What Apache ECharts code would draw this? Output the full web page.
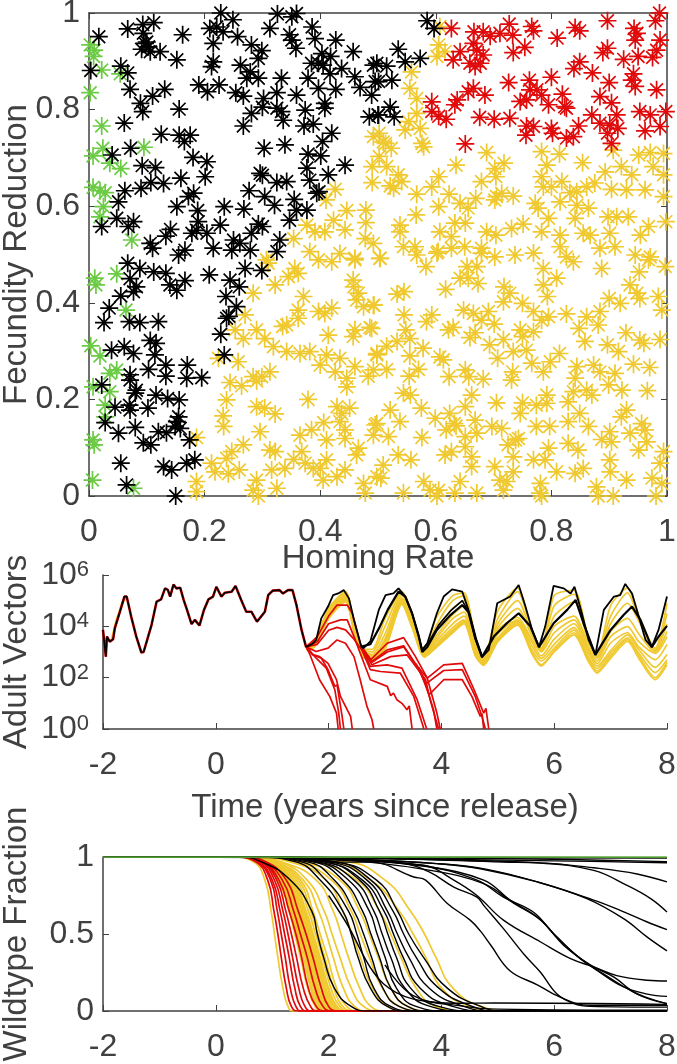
<!DOCTYPE html>
<html><head><meta charset="utf-8"><style>html,body{margin:0;padding:0;background:#fff}#c{width:677px;height:1064px}</style>
<script src="https://cdn.jsdelivr.net/npm/echarts@6/dist/echarts.min.js"></script></head><body><div id="c"></div>
<script>
const blackPts=[[.017,.951],[.067,.967],[.093,.976],[.112,.98],[.094,.958],[.097,.937],[.1,.94],[.103,.93],[.091,.925],[.106,.92],[.123,.92],[.152,.903],[.162,.955],[.228,1],[.249,.986],[.209,.968],[.221,.971],[.232,.961],[.257,.951],[.215,.937],[.215,.899],[.212,.889],[.281,.934],[.299,.922],[.293,.906],[.262,.892],[.279,.878],[.273,.865],[.293,.865],[.333,.865],[.313,.968],[.326,.998],[.351,.992],[.359,.999],[.347,.955],[.351,.944],[.358,.927],[.386,.971],[.391,.947],[.427,.944],[.457,.92],[.403,.916],[.418,.91],[.385,.896],[.397,.896],[.405,.892],[.437,.885],[.417,.874],[.379,.865],[.397,.844],[.427,.842],[.46,.868],[.469,.846],[.492,.892],[.495,.858],[.489,.83],[.485,.785],[.5,.789],[.003,.881],[.055,.89],[.067,.876],[.071,.842],[.131,.842],[.11,.828],[.089,.813],[.093,.796],[.156,.801],[.19,.851],[.205,.837],[.225,.851],[.254,.835],[.267,.828],[.302,.823],[.325,.835],[.359,.83],[.3,.805],[.281,.792],[.325,.803],[.333,.796],[.336,.778],[.374,.799],[.408,.813],[.408,.803],[.372,.766],[.388,.77],[.267,.766],[.061,.772],[.125,.749],[.156,.747],[.175,.747],[.165,.734],[.072,.72],[.04,.706],[.18,.701],[.204,.692],[.303,.72],[.339,.727],[.42,.751],[.404,.734],[.379,.708],[.401,.704],[.443,.685],[.414,.665],[.377,.679],[.382,.654],[.394,.627],[.398,.63],[.092,.684],[.115,.68],[.107,.649],[.129,.647],[.159,.658],[.201,.661],[.296,.668],[.3,.664],[.325,.649],[.342,.651],[.277,.632],[.304,.62],[.321,.602],[.355,.614],[.062,.632],[.09,.637],[.051,.609],[.181,.627],[.172,.62],[.152,.599],[.188,.591],[.234,.599],[.268,.594],[.359,.592],[.377,.592],[.347,.571],[.048,.575],[.022,.558],[.077,.568],[.068,.558],[.141,.552],[.133,.538],[.189,.568],[.227,.561],[.178,.544],[.204,.544],[.186,.55],[.293,.563],[.3,.558],[.281,.544],[.33,.53],[.325,.506],[.25,.53],[.215,.513],[.247,.509],[.279,.509],[.261,.523],[.106,.523],[.11,.513],[.155,.499],[.166,.509],[.585,.984],[.597,.968],[.535,.925],[.498,.896],[.515,.89],[.547,.899],[.573,.906],[.501,.858],[.524,.861],[.521,.805],[.501,.789],[.528,.785],[.067,.482],[.088,.471],[.112,.464],[.133,.461],[.071,.45],[.082,.433],[.077,.423],[.166,.446],[.14,.437],[.152,.426],[.208,.458],[.244,.447],[.27,.471],[.299,.467],[.26,.433],[.237,.413],[.255,.392],[.238,.368],[.242,.372],[.228,.335],[.234,.292],[.055,.414],[.035,.389],[.026,.359],[.07,.361],[.088,.359],[.12,.361],[.106,.322],[.116,.316],[.039,.302],[.061,.309],[.077,.295],[.114,.292],[.103,.262],[.133,.271],[.17,.271],[.133,.248],[.169,.244],[.195,.245],[.071,.251],[.071,.24],[.022,.23],[.082,.219],[.08,.213],[.116,.209],[.136,.202],[.156,.199],[.045,.184],[.07,.188],[.071,.178],[.102,.182],[.155,.164],[.152,.154],[.028,.152],[.08,.142],[.051,.13],[.12,.133],[.134,.131],[.149,.144],[.158,.14],[.174,.116],[.094,.11],[.107,.106],[.055,.068],[.129,.061],[.143,.054],[.169,.068],[.183,.075],[.065,.023],[.15,0]];
const greenPts=[[.002,.934],[.009,.923],[.008,.91],[.022,.882],[.054,.874],[.002,.835],[.022,.766],[.024,.72],[.007,.704],[.036,.689],[.055,.678],[.095,.722],[.007,.639],[.019,.632],[.028,.628],[.025,.599],[.019,.578],[.074,.53],[.01,.451],[.012,.437],[.048,.46],[.064,.385],[.003,.311],[.019,.29],[.048,.261],[.036,.254],[.007,.226],[.036,.216],[.028,.188],[.028,.164],[.007,.116],[.009,.106],[.006,.033],[.077,.016]];
const redPts=[[.987,1],[.98,.984],[.897,.984],[.943,.968],[.948,.958],[.945,.944],[.988,.944],[.982,.923],[.975,.908],[.95,.91],[.925,.904],[.897,.927],[.889,.918],[.841,.97],[.849,.963],[.81,.948],[.766,.972],[.769,.963],[.754,.929],[.734,.918],[.727,.977],[.733,.954],[.711,.958],[.694,.952],[.682,.961],[.666,.961],[.627,.968],[.665,.937],[.642,.92],[.63,.903],[.682,.913],[.671,.923],[.659,.896],[.668,.889],[.677,.896],[.849,.899],[.839,.885],[.871,.876],[.8,.867],[.762,.861],[.726,.856],[.9,.856],[.942,.874],[.939,.861],[.945,.848],[.982,.841],[.884,.827],[.904,.814],[.819,.832],[.685,.83],[.665,.844],[.656,.837],[.637,.82],[.633,.81],[.593,.816],[.593,.796],[.605,.786],[.618,.78],[.676,.784],[.701,.78],[.728,.782],[.757,.82],[.763,.841],[.775,.841],[.783,.83],[.746,.817],[.795,.81],[.823,.806],[.826,.803],[.87,.789],[.913,.789],[.953,.796],[.971,.789],[.998,.796],[.757,.766],[.769,.765],[.756,.747],[.8,.761],[.802,.751],[.826,.741],[.838,.744],[.847,.766],[.884,.772],[.901,.768],[.915,.761],[.897,.751],[.962,.756],[.988,.765],[.904,.73],[.651,.729]];
const yellowPts=[[.607,.972],[.605,.934],[.602,.91],[.616,.92],[.558,.878],[.555,.844],[.567,.823],[.567,.792],[.553,.775],[.547,.758],[.573,.761],[.576,.73],[.579,.723],[.509,.733],[.523,.72],[.492,.744],[.515,.682],[.535,.665],[.541,.651],[.521,.642],[.527,.637],[.567,.625],[.605,.661],[.593,.64],[.635,.685],[.688,.711],[.718,.689],[.702,.678],[.704,.661],[.679,.651],[.623,.625],[.605,.599],[.642,.606],[.669,.616],[.656,.596],[.566,.582],[.538,.561],[.538,.547],[.607,.547],[.633,.565],[.651,.565],[.627,.537],[.688,.547],[.704,.54],[.731,.554],[.751,.563],[.705,.62],[.714,.627],[.702,.613],[.734,.621],[.783,.713],[.814,.708],[.792,.685],[.854,.69],[.783,.661],[.786,.64],[.818,.651],[.8,.64],[.832,.628],[.844,.63],[.772,.606],[.777,.596],[.815,.609],[.844,.602],[.864,.596],[.841,.575],[.795,.575],[.783,.547],[.815,.54],[.855,.544],[.867,.54],[.901,.544],[.898,.578],[.913,.578],[.933,.578],[.968,.558],[.954,.54],[.998,.568],[.994,.62],[.93,.634],[.904,.635],[.962,.634],[.875,.648],[.861,.64],[.893,.671],[.921,.682],[.939,.665],[.907,.716],[.951,.706],[.971,.711],[.994,.709],[.976,.682],[.994,.665],[.544,.516],[.564,.516],[.604,.506],[.627,.513],[.65,.516],[.679,.513],[.702,.495],[.737,.499],[.769,.503],[.815,.516],[.826,.495],[.884,.513],[.91,.516],[.945,.499],[.971,.495],[.504,.492],[.502,.751],[.513,.73],[.502,.703],[.49,.682],[.49,.649],[.426,.635],[.41,.613],[.446,.591],[.479,.592],[.479,.566],[.377,.561],[.391,.547],[.408,.547],[.423,.571],[.443,.551],[.354,.533],[.478,.533],[.492,.523],[.382,.506],[.434,.502],[.46,.492],[.307,.489],[.31,.482],[.356,.471],[.345,.454],[.362,.461],[.322,.437],[.284,.42],[.371,.413],[.397,.489],[.42,.485],[.46,.489],[.457,.447],[.458,.433],[.466,.42],[.463,.406],[.492,.395],[.475,.392],[.42,.389],[.397,.382],[.408,.378],[.362,.385],[.362,.368],[.27,.375],[.335,.351],[.342,.354],[.29,.344],[.253,.344],[.267,.326],[.304,.326],[.319,.309],[.342,.299],[.414,.333],[.457,.33],[.486,.349],[.46,.344],[.365,.295],[.382,.299],[.411,.292],[.434,.285],[.4,.271],[.498,.295],[.46,.268],[.426,.257],[.483,.248],[.446,.244],[.446,.226],[.224,.285],[.258,.278],[.284,.247],[.313,.257],[.299,.247],[.244,.235],[.264,.228],[.29,.238],[.238,.199],[.379,.2],[.29,.185],[.304,.182],[.322,.17],[.232,.166],[.233,.144],[.296,.133],[.365,.126],[.385,.137],[.406,.152],[.429,.185],[.437,.171],[.451,.182],[.434,.154],[.443,.137],[.411,.116],[.443,.119],[.495,.147],[.492,.126],[.186,.121],[.466,.099],[.463,.085],[.313,.095],[.322,.092],[.368,.092],[.411,.075],[.354,.076],[.267,.106],[.247,.092],[.238,.078],[.212,.068],[.218,.05],[.241,.046],[.26,.054],[.316,.054],[.339,.057],[.374,.068],[.388,.057],[.4,.057],[.443,.054],[.429,.04],[.405,.033],[.475,.026],[.498,.04],[.186,.03],[.186,.009],[.29,.033],[.284,.012],[.293,0],[.325,.016],[.478,.006],[.503,.492],[.583,.475],[.567,.499],[.602,.503],[.679,.503],[.838,.485],[.786,.471],[.887,.471],[.997,.475],[.952,.464],[.968,.489],[.654,.475],[.671,.475],[.642,.451],[.656,.451],[.673,.44],[.533,.418],[.545,.423],[.617,.428],[.718,.433],[.728,.42],[.717,.402],[.786,.437],[.809,.451],[.793,.413],[.936,.437],[.948,.42],[.953,.409],[.985,.413],[.9,.409],[.884,.382],[.919,.399],[.493,.395],[.545,.375],[.593,.375],[.584,.361],[.648,.385],[.665,.378],[.691,.382],[.679,.364],[.701,.356],[.75,.399],[.769,.382],[.783,.364],[.795,.371],[.826,.377],[.861,.371],[.881,.354],[.848,.347],[.991,.385],[.489,.347],[.548,.344],[.555,.326],[.533,.32],[.578,.306],[.622,.344],[.63,.349],[.668,.338],[.659,.328],[.746,.344],[.75,.33],[.717,.324],[.693,.313],[.769,.34],[.858,.32],[.929,.338],[.897,.313],[.916,.299],[.953,.323],[.96,.316],[.988,.324],[.498,.292],[.515,.31],[.555,.29],[.607,.288],[.613,.282],[.734,.299],[.707,.285],[.757,.302],[.766,.275],[.814,.295],[.798,.278],[.786,.257],[.844,.268],[.873,.271],[.884,.257],[.91,.254],[.942,.273],[.97,.266],[.515,.262],[.492,.261],[.57,.262],[.554,.248],[.623,.247],[.651,.261],[.657,.247],[.682,.242],[.733,.257],[.731,.24],[.841,.244],[.899,.23],[.662,.209],[.544,.213],[.556,.209],[.705,.193],[.792,.209],[.75,.193],[.774,.188],[.792,.192],[.829,.195],[.838,.216],[.861,.219],[.87,.209],[.922,.219],[.966,.218],[.93,.178],[.921,.164],[.849,.171],[.521,.178],[.538,.154],[.575,.182],[.599,.161],[.624,.171],[.651,.185],[.632,.15],[.668,.157],[.697,.144],[.714,.14],[.746,.171],[.797,.144],[.774,.144],[.829,.154],[.864,.144],[.498,.15],[.518,.123],[.576,.121],[.618,.137],[.635,.145],[.651,.123],[.671,.13],[.738,.116],[.743,.119],[.725,.106],[.795,.099],[.829,.109],[.846,.095],[.887,.117],[.901,.133],[.904,.112],[.936,.13],[.956,.15],[.962,.137],[.951,.095],[.965,.112],[.535,.085],[.557,.075],[.616,.085],[.627,.092],[.651,.102],[.662,.081],[.662,.061],[.702,.061],[.734,.081],[.769,.075],[.789,.075],[.734,.05],[.809,.05],[.841,.047],[.855,.057],[.901,.075],[.902,.05],[.994,.092],[.988,.068],[.509,.064],[.505,.037],[.579,.03],[.59,.012],[.605,.012],[.642,.03],[.711,.033],[.723,.03],[.717,.012],[.781,.026],[.878,.019],[.93,.033],[.974,.037],[.991,.026],[.544,.006],[.602,0],[.633,.006],[.671,.006],[.783,0],[.881,0],[.907,0],[.981,0],[.78,.006]];

// Adult vectors: [time, log10 count]
const vecShared=[[-2,3.86],[-1.95,2.82],[-1.93,3.6],[-1.88,3.4],[-1.82,3.5],[-1.79,3.93],[-1.7,4.57],[-1.62,5.16],[-1.58,5.16],[-1.5,4.38],[-1.41,3.6],[-1.32,2.98],[-1.28,3],[-1.2,3.6],[-1.14,4.05],[-1.05,4.96],[-.97,5.05],[-.9,5.48],[-.85,5.42],[-.81,5.16],[-.75,5.63],[-.7,5.48],[-.63,5.5],[-.57,5.03],[-.51,4.64],[-.43,4.09],[-.37,4.25],[-.29,4.03],[-.21,4.64],[-.13,5.05],[-.05,5.16],[.01,5.54],[.1,5.16],[.16,5.31],[.28,5.35],[.35,5.57],[.45,5.03],[.54,4.57],[.63,4.57],[.73,4.18],[.87,4.57],[.93,5.22],[1.01,5.39],[1.13,5.41],[1.19,5.28],[1.28,5.41],[1.36,5.41],[1.43,4.83],[1.52,3.86],[1.6,3.2]];
const vecBlackTop=[[1.6,3.2],[1.7,3.3],[1.78,3.47],[1.87,4.31],[1.99,4.77],[2.08,5.22],[2.17,5.28],[2.27,5.41],[2.36,5.09],[2.45,4.25],[2.58,3.21],[2.62,3.15],[2.74,3.41],[2.89,4.64],[3.01,5.22],[3.15,5.28],[3.24,5.48],[3.36,5.16],[3.48,4.51],[3.6,3.6],[3.66,3.08],[3.75,3.34],[3.92,4.51],[4.04,5.16],[4.19,5.44],[4.37,5.35],[4.48,4.64],[4.6,3.54],[4.72,2.8],[4.84,3.08],[4.99,4.9],[5.22,5.16],[5.37,5.61],[5.49,4.77],[5.61,3.86],[5.73,3.19],[5.84,3.99],[5.99,5.58],[6.17,5.48],[6.29,5.28],[6.36,5.54],[6.49,4.51],[6.61,3.47],[6.73,2.89],[6.88,4.64],[7.06,5.16],[7.17,5.22],[7.26,5.65],[7.38,5.28],[7.5,4.38],[7.62,3.47],[7.73,3.19],[7.85,3.86],[8,5.16]];
const vecBlackLow=[[2.58,3.21],[2.74,3.3],[2.9,3.95],[3.05,4.65],[3.24,5.35],[3.36,5.16],[3.48,4.51],[3.6,3.6],[3.66,3.0],[3.75,3.2],[3.92,3.86],[4.16,4.44],[4.37,4.83],[4.48,4.55],[4.6,3.54],[4.72,2.8],[4.93,3.6],[5.16,4.12],[5.37,4.51],[5.58,3.99],[5.73,3.19],[5.99,4.12],[6.23,4.64],[6.38,5.03],[6.52,4.12],[6.73,2.89],[7,3.86],[7.23,4.44],[7.38,4.77],[7.53,4.25],[7.73,3.19],[7.85,3.6],[8,4.02]];
const vecBlackMid=[[3.66,3.1],[3.78,3.4],[3.95,4.05],[4.16,4.6],[4.37,5.0],[4.5,4.5],[4.62,3.5],[4.72,2.85]];
const vecYellowT=[1.6,1.75,2,2.3,2.45,2.6,2.77,3,3.3,3.48,3.7,3.9,4.2,4.4,4.6,4.75,5,5.35,5.6,5.77,6,6.35,6.6,6.76,7,7.3,7.5,7.79,8];
const vecYa=[3.2,3.4,4.7,5.35,4.2,3.1,3.1,4.3,5.35,4.5,3,4.3,5.2,5.3,3.6,2.75,4.6,5.5,3.9,3.15,5.2,5.4,3.6,2.85,4.8,5.5,4.4,3.15,4.9];
const vecYb=[3.2,3.4,4.65,5.3,4.15,3.1,3,4,5.3,4.45,3,4,5,5.2,3.5,2.75,4.3,5.35,3.85,3.15,4.8,5.25,3.55,2.85,4.4,5.3,4.3,3.1,4.5];
const vecYc=[3.2,3.35,4.6,5.25,4.1,3.05,2.9,3.7,5.2,4.35,2.95,3.8,4.7,5,3.4,2.7,4.1,5,3.75,3.1,4.4,4.95,3.45,2.8,4.1,4.9,4.2,3.05,4.1];
const vecYd=[3.2,3.35,4.55,5.2,4.05,3,2.85,3.5,5.1,4.3,2.95,3.6,4.45,4.8,3.3,2.7,3.95,4.7,3.65,3.05,4,4.4,3.35,2.75,3.8,4.31,3.7,3,3.8];
const vecYe=[3.15,3.3,4.5,5.15,4,2.95,2.8,3.4,5.05,4.2,2.9,3.5,4.3,4.55,3.2,2.65,3.85,4.35,3.5,3,3.75,4.25,3.2,2.65,3.6,3.99,3.4,2.95,3.6];
const vecYf=[3.15,3.3,4.45,5.1,3.95,2.9,2.75,3.3,5,4.15,2.9,3.4,4.1,4.4,3.1,2.6,3.7,4.25,3.4,2.85,3.5,4.1,3.1,2.55,3.35,3.75,3.2,2.7,3.3];
const vecYg=[3.1,3.25,4.4,5.05,3.9,2.9,2.72,3.25,4.95,4.1,2.85,3.3,3.95,4.25,3.05,2.6,3.55,4.2,3.25,2.75,3.3,3.95,3,2.45,3.05,3.67,3.1,2.4,2.9];
const vecYh=[3.1,3.25,4.35,5,3.85,2.85,2.72,3.2,4.9,4.05,2.85,3.25,3.85,4.2,2.95,2.55,3.5,4.15,3.1,2.65,3.15,3.85,2.85,2.35,2.95,3.55,2.95,2.2,2.7];
const vecYi=[3.1,3.2,4.3,5,3.8,2.85,2.72,3.15,4.9,4,2.82,3.2,3.8,4.15,2.9,2.5,3.45,4.1,3,2.5,3.05,3.75,2.75,2.25,2.85,3.48,2.85,2,2.6];
const vecYj=[3.1,3.2,4.3,4.95,3.8,2.8,2.7,3.1,4.85,3.95,2.8,3.15,3.75,4.1,2.85,2.48,3.4,4.05,2.95,2.45,3,3.67,2.65,2.18,2.75,3.41,2.75,1.92,2.5];
const vecYellowRows=[vecYa,vecYb,vecYc,vecYd,vecYe,vecYf,vecYg,vecYh,vecYi,vecYj];
const vecRed=[
[[1.6,3.2],[1.66,2.95],[1.84,1.92],[2.02,1.27],[2.14,.62],[2.17,0]],
[[1.6,3.2],[1.72,2.89],[1.87,2.76],[1.99,2.31],[2.11,1.66],[2.15,1.72],[2.24,.49],[2.27,0]],
[[1.6,3.2],[1.72,2.9],[1.84,2.82],[1.99,2.56],[2.14,1.92],[2.21,1.27],[2.39,.49],[2.42,0]],
[[1.6,3.2],[1.78,2.76],[1.96,2.37],[2.11,1.53],[2.18,.62],[2.21,0]],
[[1.6,3.2],[1.78,3.02],[1.99,3.15],[2.15,3.47],[2.3,3.34],[2.45,2.82],[2.56,1.92],[2.68,.88],[2.77,.36],[2.8,0]],
[[1.6,3.2],[1.8,3.4],[2,4.1],[2.21,4.25],[2.33,4.25],[2.45,3.6],[2.56,2.95],[2.74,1.92],[3.04,1.66],[3.1,1.3],[3.15,1.4],[3.21,1.14],[3.3,1.0],[3.39,.75],[3.43,.9],[3.48,0]],
[[1.6,3.2],[1.8,3.3],[2,3.85],[2.15,3.96],[2.3,3.86],[2.45,3.5],[2.59,3.08],[2.74,2.31],[2.92,2.24],[3.27,2.18],[3.51,1.27],[3.69,0]],
[[1.6,3.2],[1.8,3.6],[2,4.4],[2.15,4.83],[2.33,4.83],[2.42,4.51],[2.56,3.34],[2.74,2.44],[3.04,2.5],[3.3,2.37],[3.57,1.14],[3.74,0]],
[[2.59,3.15],[2.77,2.5],[3.1,2.82],[3.39,2.89],[3.72,1.92],[3.8,1.14],[3.95,0]],
[[2.59,3.15],[2.77,2.63],[3.04,3.08],[3.33,3.24],[3.57,2.44],[3.7,1.9],[3.86,.75],[3.92,0]],
[[2.59,3.2],[2.75,2.7],[3.04,3.34],[3.33,3.56],[3.54,2.82],[3.75,1.98],[3.92,.62],[3.98,0]],
[[2.59,3.15],[2.77,2.6],[3.04,3.0],[3.33,3.2],[3.55,2.5],[3.75,1.98],[4.04,2.5],[4.37,2.56],[4.58,1.53],[4.75,.62],[4.79,.8],[4.84,0]],
[[3.55,2.55],[3.72,1.75],[4.04,2.28],[4.37,2.31],[4.6,1.27],[4.72,.49],[4.78,0]],
[[3.6,2.4],[3.78,1.33],[4.04,1.92],[4.37,1.92],[4.54,1.27],[4.69,.49],[4.72,.6],[4.75,0]]
];
// Wildtype fraction
const wtLevels=[1,.97,.85,.65,.5,.35,.15,.03,0];
const wtRed=[[.35,.7,.92,1.03,1.1,1.16,1.25,1.34,1.45],[.35,.72,.97,1.09,1.16,1.23,1.32,1.42,1.52],[.4,.75,1,1.14,1.22,1.3,1.4,1.5,1.62],[.4,.78,1.04,1.19,1.28,1.36,1.47,1.58,1.7],[.42,.8,1.08,1.24,1.34,1.43,1.55,1.68,1.8],[.45,.82,1.12,1.3,1.42,1.52,1.64,1.78,1.92],[.5,.85,1.18,1.38,1.5,1.62,1.76,1.9,2.05],[.5,.88,1.25,1.46,1.6,1.72,1.87,2,2.15]];
const wtYellow=[[.3,.66,.87,.98,1.04,1.1,1.19,1.28,1.37],[.42,.8,1.1,1.3,1.4,1.5,1.63,1.76,1.88],[.45,.82,1.14,1.33,1.44,1.55,1.68,1.8,1.93],[.45,.83,1.15,1.35,1.46,1.58,1.7,1.83,1.95],[.45,.84,1.17,1.36,1.48,1.6,1.73,1.85,1.98],[.47,.85,1.18,1.38,1.5,1.62,1.75,1.88,2.01],[.48,.85,1.2,1.4,1.52,1.64,1.77,1.9,2.03],[.48,.86,1.22,1.42,1.54,1.66,1.79,1.92,2.05],[.5,.86,1.23,1.44,1.56,1.68,1.81,1.95,2.08],[.5,.87,1.25,1.46,1.58,1.7,1.83,1.97,2.11],[.5,.88,1.27,1.48,1.61,1.73,1.86,2,2.14],[.51,.89,1.29,1.5,1.63,1.75,1.88,2.03,2.17],[.52,.9,1.3,1.52,1.65,1.77,1.91,2.05,2.2],[.52,.91,1.32,1.54,1.67,1.79,1.93,2.08,2.22],[.52,.92,1.34,1.56,1.69,1.81,1.95,2.1,2.25],[.54,.94,1.36,1.58,1.71,1.83,1.98,2.13,2.29],[.55,.95,1.38,1.6,1.73,1.85,2,2.15,2.32],[.55,.97,1.42,1.64,1.77,1.89,2.04,2.2,2.38],[.6,1,1.46,1.68,1.81,1.93,2.09,2.25,2.45],[.6,1.02,1.5,1.72,1.85,1.98,2.14,2.32,2.52],[.62,1.05,1.55,1.82,1.96,2.08,2.26,2.46,2.7],[.65,1.12,1.62,1.92,2.06,2.2,2.4,2.62,2.9],[.65,1.15,1.78,2.08,2.22,2.35,2.55,2.75,3],[.7,1.3,1.95,2.25,2.42,2.56,2.78,3.05,3.4],[.7,1.4,2.05,2.4,2.56,2.72,2.95,3.25,3.6],[.7,1.5,2.2,2.55,2.72,2.88,3.1,3.4,3.8],[.8,1.7,2.5,2.9,3.1,3.28,3.55,3.9,4.4],[.8,2,2.75,3.25,3.5,3.72,4,4.5,5],[.8,2.3,3,3.45,3.7,3.9,4.2,4.7,5.2]];
const wtBlackLv=[[.4,.8,1.32,1.7,1.8,1.91,2.1,2.4,2.7],[.7,1.4,1.85,2.25,2.4,2.52,2.74,3.04,3.4],[.7,1.5,1.95,2.35,2.5,2.62,2.8,3.1,3.5],[.7,1.6,2.1,2.45,2.62,2.76,2.96,3.25,3.7],[.8,1.7,2.25,2.6,2.75,2.9,3.1,3.4,3.8],[.8,1.75,2.35,2.72,2.86,3,3.2,3.55,4.1],[.9,1.8,2.45,2.8,2.95,3.1,3.35,3.8,4.4],[.9,1.9,2.55,2.9,3.05,3.2,3.45,3.95,4.6],[1,1.9,2.6,2.98,3.15,3.32,3.62,4.2,4.8],[1,2,2.68,3.04,3.22,3.42,3.78,4.4,4.9],[1,2.1,2.75,3.14,3.33,3.55,3.95,4.55,5],[1,2.1,2.85,3.22,3.42,3.68,4.1,4.7,5.1]];
const wtBlackTails=[
[[.8,1],[1.6,.99],[2.15,.967],[2.74,.967],[3.51,.87],[3.72,.85],[4.1,.7],[4.51,.59],[4.69,.52],[4.87,.43],[5.22,.26],[5.7,.17],[5.99,.11],[6.38,.05],[6.64,.037],[8,.037]],
[[1,1],[2,.985],[3.33,.957],[3.8,.9],[4.22,.805],[4.63,.74],[4.75,.686],[5.1,.535],[5.46,.37],[5.76,.25],[6.05,.11],[6.35,.048],[6.64,.03],[8,.025]],
[[1,1],[2.2,.98],[3.69,.946],[4.22,.85],[4.63,.75],[5.1,.59],[5.76,.448],[6.29,.34],[6.7,.286],[7.11,.23],[7.65,.2],[8,.195]],
[[1,1],[2.2,.985],[3.63,.946],[4.63,.85],[5.1,.74],[5.64,.64],[5.99,.5],[6.4,.36],[6.76,.264],[7.23,.156],[7.65,.11],[8,.095]],
[[1,1],[2.3,.985],[3.7,.94],[4.75,.85],[5.22,.72],[5.7,.61],[6.05,.48],[6.46,.34],[6.88,.24],[7.35,.134],[7.7,.08],[8,.048]],
[[1,1],[2.3,.98],[3.7,.92],[4.75,.827],[5.28,.7],[5.76,.59],[6.17,.426],[6.64,.3],[7.06,.22],[7.47,.11],[8,.048]],
[[1,1],[2.5,.985],[3.92,.957],[4.69,.924],[5.7,.838],[6.58,.73],[7.23,.6],[7.65,.48],[8,.39]],
[[1,1],[2.5,.985],[3.92,.957],[4.81,.92],[5.7,.838],[6.7,.72],[7.17,.654],[7.65,.578],[8,.528]],
[[1,1],[3,.99],[5.1,.967],[5.76,.96],[6.7,.913],[7.29,.816],[7.71,.73],[8,.643]],
[[1,1],[3,.99],[5.76,.962],[6.7,.93],[7.47,.89],[8,.838]],
[[1,1],[3,.99],[6,.975],[8,.963]],
[[1,1],[3,.995],[6,.985],[8,.97]],
[[2,.75],[2.35,.55],[2.8,.25],[3.2,.12],[3.8,.06],[4.4,.05],[4.93,.052],[8,.043]],
[[3,.3],[3.5,.1],[4.4,.03],[5,.012],[8,.005]]
];
const wtBlackTop=[[-2,1],[0,1],[1,.998],[8,.995]];
const wtGreen=[[-2,1],[8,1]];

const star='path://M0 -10L0 10M-10 0L10 0M-7.1 -7.1L7.1 7.1M-7.1 7.1L7.1 -7.1';
const C={y:'#EFC92F',k:'#000000',r:'#E00A0A',g:'#6CCB45',ax:'#404040'};
const font='"Liberation Sans",Arial,sans-serif';
function sc(data,c,z){return {type:'scatter',xAxisIndex:0,yAxisIndex:0,data,symbol:star,symbolSize:18,clip:false,z,silent:true,
  itemStyle:{color:'rgba(0,0,0,0)',borderColor:c,borderWidth:1.7,opacity:1}};}
function ln(data,c,xi,w,z,smooth){return {type:'line',xAxisIndex:xi,yAxisIndex:xi,data,symbol:'none',z,silent:true,
  lineStyle:{color:c,width:w},clip:true,smooth:smooth||false,animation:false};}
const pow=a=>a.map(p=>[p[0],Math.pow(10,p[1])]);
function ax(extra){return Object.assign({nameMoveOverlap:false,axisLine:{show:true,onZero:false,lineStyle:{color:C.ax,width:1.5}},axisTick:{show:true,inside:true,length:6,lineStyle:{color:C.ax,width:1}},splitLine:{show:false},
 nameTextStyle:{color:C.ax,fontSize:33,fontFamily:font},nameLocation:'middle'},extra);}
const lab=(m,f)=>({color:C.ax,fontSize:32,fontFamily:font,margin:m,formatter:f});
const series=[];
series.push(sc(greenPts,C.g,3),sc(yellowPts,C.y,4),sc(redPts,C.r,5),sc(blackPts,C.k,6));
const shared=pow(vecShared);
series.push(ln(pow([[-1.85,3.45],[-1.75,4.3],[-1.65,4.95],[-1.6,5.1]]),C.y,1,2.5,3));
vecYellowRows.forEach(r=>series.push(ln(pow(r.map((v,i)=>[vecYellowT[i],v])),C.y,1,1.7,3,0.25)));
vecRed.forEach(r=>series.push(ln(pow(r),C.r,1,1.7,4)));
series.push(ln(shared,C.r,1,2.6,4));
series.push(ln(pow(vecBlackTop),C.k,1,1.8,5),ln(pow(vecBlackLow),C.k,1,2.2,5),ln(pow(vecBlackMid),C.k,1,1.6,5),ln(shared,C.k,1,1.6,6));
const fromLv=r=>[[-2,1]].concat(r.map((t,i)=>[t,wtLevels[i]])).concat([[8,0]]);
wtYellow.forEach(r=>series.push(ln(fromLv(r),C.y,2,1.7,3,0.5)));
wtRed.forEach(r=>series.push(ln(fromLv(r),C.r,2,1.7,4,0.5)));
wtBlackLv.forEach(r=>series.push(ln(fromLv(r),C.k,2,1.4,5,0.5)));
wtBlackTails.forEach(r=>series.push(ln(r,C.k,2,1.4,5,0.4)));
series.push(ln(wtBlackTop,C.k,2,2,6),ln(wtGreen,C.g,2,1.5,7));
const chart=echarts.init(document.getElementById('c'),null,{renderer:'canvas'});
const g=(left,top,width,height)=>({left,top,width,height,outerBoundsMode:'none',containLabel:false});
const f1=v=>String(+v.toFixed(1));
chart.setOption({animation:false,backgroundColor:'#fff',
 grid:[g(89,13,578,483),g(103,575,564,154),g(103,857,564,154),g(89,13,578,483)],
 xAxis:[
  ax({gridIndex:0,type:'value',min:0,max:1,interval:.2,name:'Homing Rate',nameGap:46,axisLabel:lab(20,f1)}),
  ax({gridIndex:1,type:'value',min:-2,max:8,interval:2,name:'Time (years since release)',nameGap:62,axisLabel:lab(20)}),
  ax({gridIndex:2,type:'value',min:-2,max:8,interval:2,axisLabel:lab(20)}),
  ax({gridIndex:3,type:'value',position:'top',min:0,max:1,interval:.2,axisLabel:{show:false}})
 ],
 yAxis:[
  ax({gridIndex:0,type:'value',min:0,max:1,interval:.2,name:'Fecundity Reduction',nameGap:56,axisLabel:lab(9,f1)}),
  ax({gridIndex:1,type:'log',logBase:10,min:1,max:1000000,interval:2,minorTick:{show:false},name:'Adult Vectors',nameGap:70,axisLabel:{color:C.ax,fontSize:32,fontFamily:font,margin:14,
     formatter:v=>'{a|10}{b|'+Math.round(Math.log10(v))+'}',rich:{a:{fontSize:32,fontFamily:font,color:C.ax},b:{fontSize:22,fontFamily:font,color:C.ax,verticalAlign:'top',padding:[0,0,10,0]}}}}),
  ax({gridIndex:2,type:'value',min:0,max:1,interval:.5,name:'Wildtype Fraction',nameGap:70,axisLabel:lab(9,v=>String(+v))}),
  ax({gridIndex:3,type:'value',position:'right',min:0,max:1,interval:.2,axisLabel:{show:false}})
 ],
 series});
</script></body></html>
